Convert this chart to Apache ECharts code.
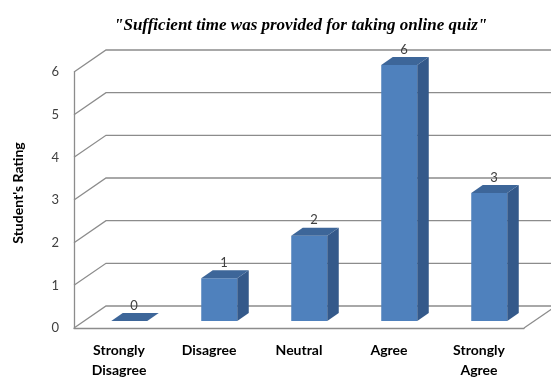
<!DOCTYPE html>
<html>
<head>
<meta charset="utf-8">
<script src="https://cdn.jsdelivr.net/npm/echarts@6/dist/echarts.min.js"></script>
<style>
  html, body { margin: 0; padding: 0; background: #ffffff; }
  #chart { width: 551px; height: 380px; }
</style>
</head>
<body>
<div id="chart"></div>
<script>
// Survey responses
const categories = ['Strongly\nDisagree', 'Disagree', 'Neutral', 'Agree', 'Strongly\nAgree'];
const ratings = [0, 1, 2, 6, 3];
const yTicks = [0, 1, 2, 3, 4, 5, 6];
const chartTitle = '"Sufficient time was provided for taking online quiz"';
const yAxisTitle = "Student's Rating";

// Oblique projection used for the box walls and the column slabs
const DEPTH = [32, -22];          // front plane -> back wall offset
const BAR_FRONT = 0.32;           // fraction of depth where a column's front face sits
const BAR_BACK = 0.68;            // fraction of depth where a column's back face sits
const BAR_HALF = 18;              // half width of a column's front face
const LINE_COLOR = '#8c8c8c';
const FRONT_COLOR = '#4f81bd';
const SIDE_COLOR = '#34598a';
const TOP_COLOR = '#3d6699';
const SANS = 'Lato, "Open Sans", sans-serif';

const chart = echarts.init(document.getElementById('chart'), null, { renderer: 'canvas' });

function renderGridLine(params, api) {
  const v = api.value(1);
  const y = api.coord([0, v])[1];
  const cs = params.coordSys;
  const x0 = cs.x;
  const x1 = cs.x + cs.width;
  const children = [{
    type: 'polyline',
    shape: { points: [[x0, y], [x0 + DEPTH[0], y + DEPTH[1]], [x1 + DEPTH[0] + 20, y + DEPTH[1]]] },
    style: { stroke: LINE_COLOR, lineWidth: 1.3, fill: null }
  }];
  if (v === 0) {
    // right edge of the floor
    children.push({
      type: 'line',
      shape: { x1: x1, y1: y, x2: x1 + DEPTH[0], y2: y + DEPTH[1] },
      style: { stroke: LINE_COLOR, lineWidth: 1.3 }
    });
  }
  return { type: 'group', children: children };
}

function renderColumn(params, api) {
  const idx = api.value(0);
  const v = api.value(1);
  const base = api.coord([idx, 0]);
  const top = api.coord([idx, v]);
  const cx = base[0] + DEPTH[0] * BAR_FRONT;
  const by = base[1] + DEPTH[1] * BAR_FRONT;
  const ty = top[1] + DEPTH[1] * BAR_FRONT;
  const t = BAR_BACK - BAR_FRONT;
  const dx = DEPTH[0] * t;
  const dy = DEPTH[1] * t;
  const l = cx - BAR_HALF;
  const r = cx + BAR_HALF;
  const children = [];
  if (by - ty > 0.5) {
    children.push({
      type: 'rect',
      shape: { x: l, y: ty, width: r - l, height: by - ty },
      style: { fill: FRONT_COLOR }
    });
    children.push({
      type: 'polygon',
      shape: { points: [[r, ty], [r + dx, ty + dy], [r + dx, by + dy], [r, by]] },
      style: { fill: SIDE_COLOR }
    });
  }
  children.push({
    type: 'polygon',
    shape: { points: [[l, ty], [r, ty], [r + dx, ty + dy], [l + dx, ty + dy]] },
    style: { fill: TOP_COLOR }
  });
  children.push({
    type: 'text',
    style: {
      x: cx + dx / 2 - 1,
      y: ty + dy - 1,
      text: String(v),
      fill: '#404040',
      font: '13px ' + SANS,
      align: 'center',
      verticalAlign: 'bottom'
    }
  });
  return { type: 'group', children: children };
}

chart.setOption({
  animation: false,
  backgroundColor: '#ffffff',
  title: {
    text: chartTitle,
    left: 109,
    top: 12,
    textStyle: {
      fontFamily: '"Liberation Serif", "DejaVu Serif", serif',
      fontStyle: 'italic',
      fontWeight: 'bold',
      fontSize: 17,
      color: '#000000'
    }
  },
  grid: { left: 74, right: 27, top: 72, bottom: 48, containLabel: false },
  xAxis: {
    type: 'category',
    data: categories,
    axisLine: { show: true, lineStyle: { color: LINE_COLOR, width: 1.3 } },
    axisTick: { show: false },
    axisLabel: {
      margin: 12,
      color: '#000000',
      fontFamily: SANS,
      fontWeight: 'bold',
      fontSize: 14,
      lineHeight: 20
    },
    splitLine: { show: false }
  },
  yAxis: {
    type: 'value',
    min: 0,
    max: 6,
    interval: 1,
    name: yAxisTitle,
    nameLocation: 'middle',
    nameGap: 49,
    nameRotate: 90,
    nameTextStyle: {
      fontFamily: SANS,
      fontWeight: 'bold',
      fontSize: 14,
      color: '#000000',
      padding: [0, 0, 0, 14]
    },
    axisLine: { show: true, lineStyle: { color: LINE_COLOR, width: 1.3 } },
    axisTick: { show: false },
    axisLabel: {
      margin: 15,
      color: '#404040',
      fontFamily: SANS,
      fontSize: 13
    },
    splitLine: { show: false }
  },
  series: [
    {
      type: 'custom',
      name: 'walls',
      renderItem: renderGridLine,
      data: yTicks.map(v => [0, v]),
      silent: true,
      z: 1
    },
    {
      type: 'custom',
      name: 'ratings',
      renderItem: renderColumn,
      data: ratings.map((v, i) => [i, v]),
      z: 2
    }
  ]
});
</script>
</body>
</html>
